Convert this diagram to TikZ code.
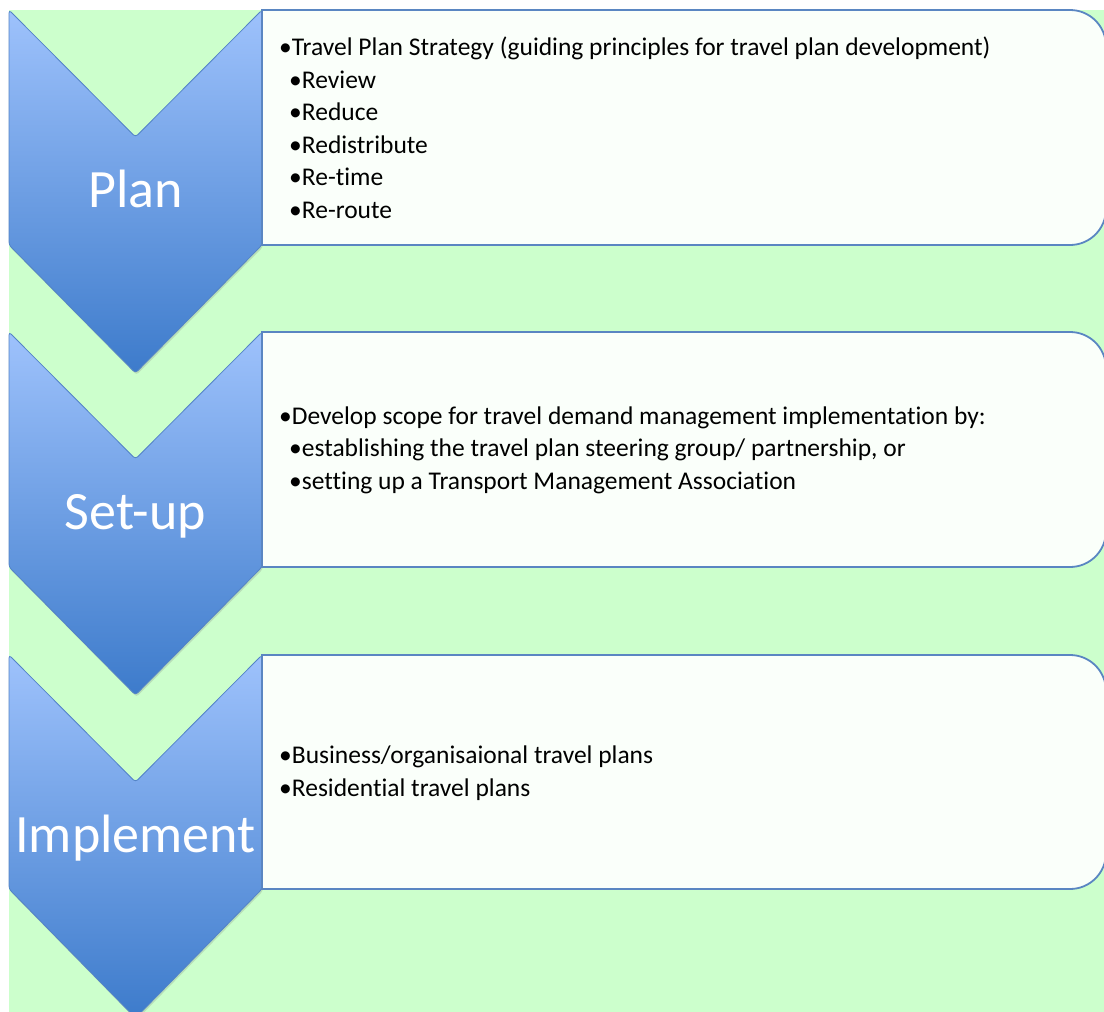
\documentclass[tikz,border=0pt]{standalone}
\usepackage{fontspec}
\setmainfont{Carlito}[Ligatures=NoCommon]
\usetikzlibrary{shadows}

\definecolor{bggreen}{HTML}{CCFFCC}
\definecolor{boxfill}{HTML}{FAFFFA}
\definecolor{boxline}{HTML}{5A86C2}
\definecolor{chevtop}{HTML}{9EC2FC}
\definecolor{chevbot}{HTML}{3D7BCB}
\definecolor{chevline}{HTML}{5383C6}

\tikzset{
  chevron/.style={top color=chevtop, bottom color=chevbot, draw=chevline,
    line width=0.8pt, rounded corners=3pt,
    drop shadow={opacity=0.25, shadow xshift=1pt, shadow yshift=-2pt}},
  stepbox/.style={fill=boxfill, draw=boxline, line width=1.8pt},
  steplabel/.style={text=white, font=\fontsize{54}{60}\selectfont, anchor=base, inner sep=0pt},
  steptext/.style={font=\fontsize{25.5}{32.5}\selectfont, align=left, anchor=west,
    inner sep=0pt, text=black}
}
\newcommand{\subbullet}{\hspace*{10pt}}

\begin{document}
\begin{tikzpicture}[x=1pt,y=1pt]
  \useasboundingbox (0,0) rectangle (1104,-1012);
  \clip (0,0) rectangle (1104,-1012);
  \fill[white] (0,0) rectangle (1104,-1012);
  \fill[bggreen] (9,-10) rectangle (1104,-1012);

  % stage 1: Plan
  \shade[chevron] (9,-10) -- (135.5,-137) -- (262,-10) -- (262,-245)
    -- (135.5,-373) -- (9,-245) -- cycle;
  \draw[stepbox] (262,-10) -- (1070,-10) arc[start angle=90,end angle=0,radius=36]
    -- (1106,-209) arc[start angle=0,end angle=-90,radius=36] -- (262,-245) -- cycle;
  \node[steplabel] (plan) at (135.5,-207) {Plan};
  \node[steptext] (plantext) at (279,-128) {%
    •Travel Plan Strategy (guiding principles for travel plan development)\\
    \subbullet•Review\\
    \subbullet•Reduce\\
    \subbullet•Redistribute\\
    \subbullet•Re-time\\
    \subbullet•Re-route};

  % stage 2: Set-up
  \shade[chevron] (9,-332) -- (135.5,-459) -- (262,-332) -- (262,-567)
    -- (135.5,-695) -- (9,-567) -- cycle;
  \draw[stepbox] (262,-332) -- (1070,-332) arc[start angle=90,end angle=0,radius=36]
    -- (1106,-531) arc[start angle=0,end angle=-90,radius=36] -- (262,-567) -- cycle;
  \node[steplabel] (setup) at (135.5,-529) {Set-up};
  \node[steptext] (setuptext) at (279,-450) {%
    •Develop scope for travel demand management implementation by:\\
    \subbullet•establishing the travel plan steering group/ partnership, or\\
    \subbullet•setting up a Transport Management Association};

  % stage 3: Implement
  \shade[chevron] (9,-655) -- (135.5,-782) -- (262,-655) -- (262,-889)
    -- (135.5,-1018) -- (9,-889) -- cycle;
  \draw[stepbox] (262,-655) -- (1070,-655) arc[start angle=90,end angle=0,radius=36]
    -- (1106,-853) arc[start angle=0,end angle=-90,radius=36] -- (262,-889) -- cycle;
  \node[steplabel] (implement) at (135.5,-852) {Implement};
  \node[steptext] (implementtext) at (279,-773) {%
    •Business/organisaional travel plans\\
    •Residential travel plans};
\end{tikzpicture}
\end{document}
